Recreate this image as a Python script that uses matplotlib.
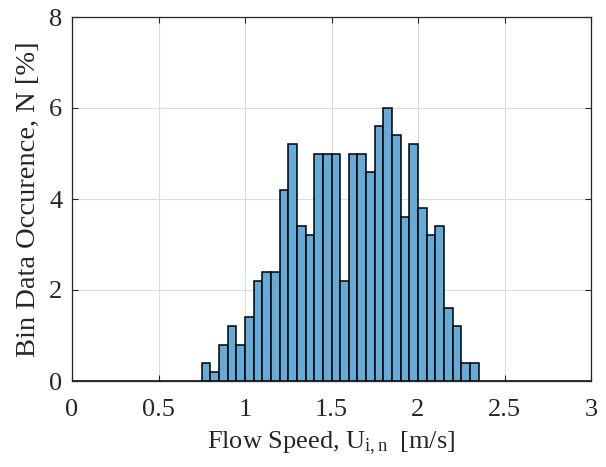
import numpy as np
import matplotlib
matplotlib.use("Agg")
import matplotlib.pyplot as plt

plt.rcParams['font.family'] = ['Liberation Serif', 'DejaVu Serif']
plt.rcParams['mathtext.fontset'] = 'custom'
plt.rcParams['mathtext.rm'] = 'Liberation Serif'
plt.rcParams['mathtext.it'] = 'Liberation Serif'

bin_width = 0.05
bin_start = 0.0
# percent occurrence per 0.05 m/s bin, from 0 to 3 m/s
occurrence = [0.0] * 15 + [
    0.4, 0.2, 0.8, 1.2, 0.8, 1.4, 2.2, 2.4, 2.4, 4.2,
    5.2, 3.4, 3.2, 5.0, 5.0, 5.0, 2.2, 5.0, 5.0, 4.6,
    5.6, 6.0, 5.4, 3.6, 5.2, 3.8, 3.2, 3.4, 1.6, 1.2,
    0.4, 0.4] + [0.0] * 13
xticks = [0, 0.5, 1, 1.5, 2, 2.5, 3]
xticklabels = ['0', '0.5', '1', '1.5', '2', '2.5', '3']
yticks = [0, 2, 4, 6, 8]

edges = bin_start + bin_width * np.arange(len(occurrence) + 1)

fig = plt.figure(figsize=(6.06, 4.67), dpi=100)
ax = fig.add_axes([72/606, 1 - 381/467, (591-72)/606, (381-17)/467])

ax.bar(edges[:-1], occurrence, width=bin_width, align='edge',
       color=(0.4, 0.668, 0.845), edgecolor='black', linewidth=1.1, zorder=3)

ax.set_xlim(0, 3)
ax.set_ylim(0, 8)
ax.set_xticks(xticks)
ax.set_xticklabels(xticklabels)
ax.set_yticks(yticks)
ax.grid(True, color='#dcdcdc', linewidth=0.8, zorder=0)
ax.set_axisbelow(True)
ax.tick_params(direction='in', length=4, width=0.8, labelsize=19, colors='#262626',
               top=True, right=True)
ax.tick_params(axis='x', pad=13)
ax.tick_params(axis='y', pad=7)
for s in ax.spines.values():
    s.set_color('#262626')
    s.set_linewidth(0.9)

ax.set_xlabel(r'Flow Speed, U$_{\mathrm{i,n}}\;$ [m/s]', fontsize=19, color='#262626', labelpad=6)
ax.set_ylabel('Bin Data Occurence, N [%]', fontsize=20.5, color='#262626', labelpad=6)

fig.savefig('out.png', dpi=100)
